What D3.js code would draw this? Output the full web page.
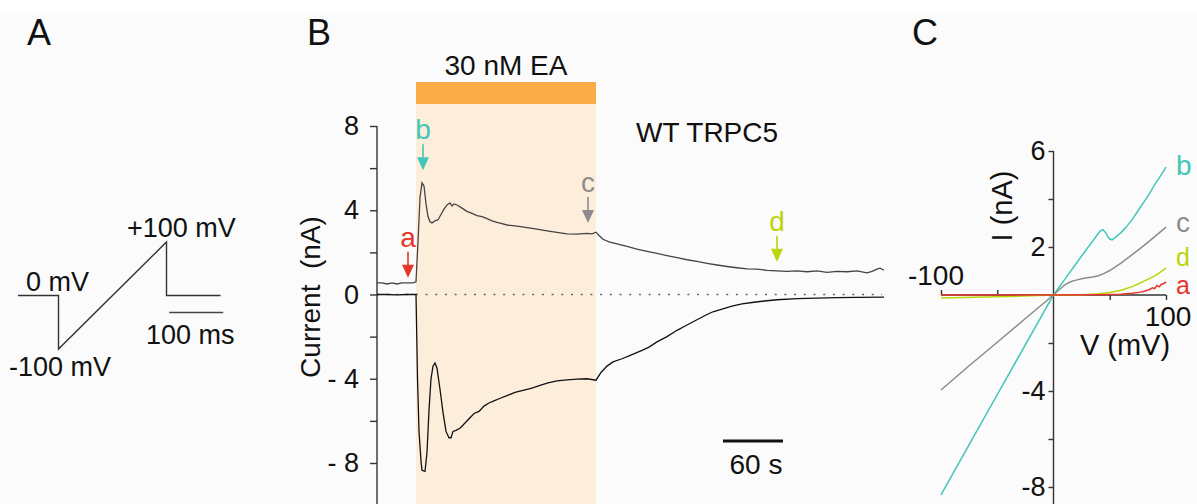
<!DOCTYPE html>
<html><head><meta charset="utf-8">
<script src="https://cdn.jsdelivr.net/npm/d3@7"></script>
<style>
body{margin:0;background:#fff}
svg{display:block}
text{font-family:"Liberation Sans",Arial,Helvetica,sans-serif;fill:#111;white-space:pre}
</style>
</head><body>
<svg id="chart" width="1197" height="504"></svg>
<script>
// ---------- Panel A : voltage protocol ----------
const protoTimeMs  = [0, 75, 75, 275, 275, 375];
const protoVoltage = [0, 0, -100, 100, 0, 0];
const protoScaleBarMs = [280, 380];

// ---------- Panel B : current time course ----------
const timePos = [0,5,10,15,20,25,30,36,39,41,43,45,47,49,51,53,55,58,61,64,67,70,73,75,77,80,85,90,95,100,105,110,115,120,125,130,140,150,160,170,180,190,200,210,215,219,222,226,232,240,250,260,270,280,290,300,310,320,330,340,350,360,370,380,390,400,410,420,430,440,450,460,470,480,490,495,500,503,507];
const currentPos = [0.55,0.55,0.5,0.55,0.5,0.55,0.55,0.55,0.6,2.5,4.6,5.3,5.15,4.3,3.7,3.45,3.4,3.5,3.55,3.8,4.05,4.25,4.35,4.2,4.3,4.25,4.1,3.95,3.85,3.75,3.7,3.6,3.5,3.42,3.36,3.3,3.25,3.18,3.1,3.02,2.95,2.88,2.87,2.9,2.88,2.96,2.8,2.62,2.5,2.4,2.28,2.15,2.05,1.95,1.85,1.75,1.65,1.57,1.48,1.4,1.33,1.27,1.22,1.2,1.15,1.12,1.1,1.12,1.08,1.12,1.05,1.1,1.08,1.12,1.03,1.1,1.2,1.25,1.15];
const timeNeg = [0,10,20,30,39,40.5,42,44,45,48,50,52,54,56,58,60,63,66,69,72,74,76,79,83,88,93,97,102,107,112,117,122,130,138,146,155,163,171,180,190,200,210,219,224,230,236,245,255,265,272,280,290,300,310,320,330,336,345,355,365,375,385,400,420,440,460,480,507];
const currentNeg = [0,0,-0.02,0,0,-4,-6.5,-7.9,-8.35,-8.4,-7.5,-5.5,-4.0,-3.4,-3.25,-3.5,-4.5,-5.6,-6.5,-6.8,-6.8,-6.5,-6.45,-6.35,-6.1,-5.85,-5.65,-5.55,-5.3,-5.15,-5.05,-4.95,-4.8,-4.65,-4.55,-4.45,-4.32,-4.2,-4.1,-4.05,-4.02,-4.0,-4.07,-3.7,-3.4,-3.2,-3.05,-2.85,-2.65,-2.5,-2.25,-2.0,-1.7,-1.45,-1.2,-0.95,-0.82,-0.7,-0.55,-0.45,-0.38,-0.32,-0.25,-0.2,-0.17,-0.15,-0.14,-0.12];
const eaWindow = [39, 219];
const eaLabel = "30 nM EA";
const arrowLabels = ["a", "b", "c", "d"];
const arrowTimes = [31, 46, 211, 400];
const arrowTips = [0.8, 5.9, 3.4, 1.55];
const yTicksB = [8, 6, 4, 2, 0, -2, -4, -6, -8];
const yLabelsB = [8, 4, 0, -4, -8];
const timeScaleBar = [346, 406];

// ---------- Panel C : I-V curves ----------
const vB = [-100,-50,0,10,20,30,35,40,42,44,46,48,50,52,55,60,65,70,75,80,85,90,95,100];
const iB = [-8.33,-4.15,0,0.65,1.3,1.95,2.25,2.58,2.68,2.72,2.62,2.45,2.33,2.3,2.4,2.6,2.85,3.15,3.5,3.85,4.2,4.6,4.95,5.33];
const vC = [-100,-75,-50,-25,0,5,10,15,20,25,30,35,40,45,50,60,70,80,90,100];
const iC = [-3.96,-2.95,-1.97,-0.98,0,0.22,0.42,0.55,0.62,0.68,0.72,0.75,0.8,0.9,1.02,1.33,1.68,2.05,2.43,2.83];
const vD = [-100,-80,-60,-40,-20,0,20,30,40,50,60,70,77,85,90,95,100];
const iD = [-0.12,-0.1,-0.08,-0.06,-0.03,0,0,0.02,0.05,0.1,0.2,0.35,0.5,0.68,0.8,0.95,1.12];
const vA = [-100,-50,0,40,60,70,77,80,85,88,90,92,94,96,98,100];
const iA = [0,0,0,0.01,0.03,0.07,0.12,0.15,0.22,0.3,0.27,0.4,0.34,0.45,0.48,0.55];
const yTicksC = [6, 4, 2, 0, -2, -4, -6, -8];
const yLabelsC = [6, 2, -4, -8];
const curveNames = ["b", "c", "d", "a"];
const curveColors = {a: "#e6352b", b: "#44c6b8", c: "#8c8c8c", d: "#bcd40a"};

// ---------- drawing ----------
const svg = d3.select("#chart");
svg.append("rect").attr("x", 0).attr("y", 15).attr("width", 1197).attr("height", 489).attr("fill", "#fbfbfb");

// Panel letters
[["A", 27], ["B", 307], ["C", 912]].forEach(([t, x]) =>
  svg.append("text").attr("x", x).attr("y", 45).attr("font-size", 36).text(t));

// ===== Panel A =====
const xA = d3.scaleLinear().domain([0, 375]).range([18, 220.5]);
const yA = d3.scaleLinear().domain([-100, 100]).range([349, 242]);
const gA = svg.append("g");
gA.append("path")
  .datum(d3.zip(protoTimeMs, protoVoltage))
  .attr("d", d3.line().x(d => xA(d[0])).y(d => yA(d[1])))
  .attr("fill", "none").attr("stroke", "#333").attr("stroke-width", 1.4);
gA.append("line").attr("x1", xA(protoScaleBarMs[0])).attr("x2", xA(protoScaleBarMs[1]))
  .attr("y1", yA(0) + 17).attr("y2", yA(0) + 17).attr("stroke", "#444").attr("stroke-width", 1.4);
gA.append("text").attr("x", 26).attr("y", yA(0) - 5).attr("font-size", 27).text("0 mV");
gA.append("text").attr("x", 9).attr("y", yA(-100) + 27).attr("font-size", 27).text("-100 mV");
gA.append("text").attr("x", 127).attr("y", yA(100) - 5).attr("font-size", 27).text("+100 mV");
gA.append("text").attr("x", 146).attr("y", yA(0) + 48).attr("font-size", 27).text("100 ms");

// ===== Panel B =====
const xB = d3.scaleLinear().domain([0, 507]).range([377, 884]);
const yB = d3.scaleLinear().domain([-8, 8]).range([463, 126]);
const gB = svg.append("g");

// EA shading and bar
gB.append("rect").attr("x", xB(eaWindow[0])).attr("width", xB(eaWindow[1]) - xB(eaWindow[0]))
  .attr("y", 104).attr("height", 400).attr("fill", "#fdeedb");
gB.append("rect").attr("x", xB(eaWindow[0])).attr("width", xB(eaWindow[1]) - xB(eaWindow[0]))
  .attr("y", 82).attr("height", 22).attr("fill", "#fbab47");
gB.append("text").attr("x", (xB(eaWindow[0]) + xB(eaWindow[1])) / 2).attr("y", 75)
  .attr("text-anchor", "middle").attr("font-size", 28).text(eaLabel);

// y axis
const axB = d3.axisLeft(yB).tickValues(yTicksB).tickSize(7).tickPadding(11)
  .tickFormat(d => yLabelsB.includes(d) ? (d < 0 ? "- " + Math.abs(d) : String(d)) : "");
const gAxB = gB.append("g").attr("transform", `translate(${xB(0)},0)`).call(axB);
gAxB.select(".domain").remove();
gAxB.selectAll(".tick line").attr("stroke", "#333").attr("stroke-width", 1.4);
gAxB.selectAll(".tick text").attr("font-size", 27).attr("font-family", '"Liberation Sans",Arial,sans-serif').attr("fill", "#111").style("white-space", "pre");
gB.append("line").attr("x1", xB(0)).attr("x2", xB(0)).attr("y1", yB(8)).attr("y2", 504)
  .attr("stroke", "#333").attr("stroke-width", 1.4);
gB.append("text").attr("transform", `translate(320,${(212 + 382) / 2}) rotate(-90)`)
  .attr("text-anchor", "middle").attr("font-size", 28).text("Current  (nA)");

// zero dotted line
gB.append("line").attr("x1", xB(0)).attr("x2", xB(505)).attr("y1", yB(0)).attr("y2", yB(0))
  .attr("stroke", "#666").attr("stroke-width", 1.6).attr("stroke-dasharray", "2,7.7");

const lineB = d3.line().x(d => xB(d[0])).y(d => yB(d[1]));
gB.append("path").datum(d3.zip(timePos, currentPos)).attr("d", lineB)
  .attr("fill", "none").attr("stroke", "#444").attr("stroke-width", 1.3);
gB.append("path").datum(d3.zip(timeNeg, currentNeg)).attr("d", lineB)
  .attr("fill", "none").attr("stroke", "#111").attr("stroke-width", 1.3);

// arrows
arrowLabels.forEach((lab, i) => {
  const x = xB(arrowTimes[i]), tip = yB(arrowTips[i]);
  const col = curveColors[lab];
  gB.append("line").attr("x1", x).attr("x2", x).attr("y1", tip - 26).attr("y2", tip - 8)
    .attr("stroke", col).attr("stroke-width", 1.6);
  gB.append("path").attr("d", `M${x - 6},${tip - 13}L${x + 6},${tip - 13}L${x},${tip}Z`).attr("fill", col);
  gB.append("text").attr("x", x).attr("y", tip - 31).attr("text-anchor", "middle")
    .attr("font-size", 28).style("fill", col).text(lab);
});

gB.append("text").attr("x", 636).attr("y", 142).attr("font-size", 28).text("WT TRPC5");

// time scale bar
gB.append("line").attr("x1", xB(timeScaleBar[0])).attr("x2", xB(timeScaleBar[1]))
  .attr("y1", 441).attr("y2", 441).attr("stroke", "#111").attr("stroke-width", 3);
gB.append("text").attr("x", (xB(timeScaleBar[0]) + xB(timeScaleBar[1])) / 2 + 3).attr("y", 474)
  .attr("text-anchor", "middle").attr("font-size", 28).text("60 s");

// ===== Panel C =====
const xC = d3.scaleLinear().domain([-100, 100]).range([941, 1166]);
const yC = d3.scaleLinear().domain([-8, 6]).range([487, 151]);
const gC = svg.append("g");

const axC = d3.axisLeft(yC).tickValues(yTicksC).tickSize(5).tickPadding(3)
  .tickFormat(d => yLabelsC.includes(d) ? String(d) : "");
const gAxC = gC.append("g").attr("transform", `translate(${xC(0)},0)`).call(axC);
gAxC.select(".domain").remove();
gAxC.selectAll(".tick line").attr("stroke", "#333").attr("stroke-width", 1.4);
gAxC.selectAll(".tick text").attr("font-size", 27).attr("font-family", '"Liberation Sans",Arial,sans-serif').attr("fill", "#111");
gC.append("line").attr("x1", xC(0)).attr("x2", xC(0)).attr("y1", yC(6)).attr("y2", 504)
  .attr("stroke", "#333").attr("stroke-width", 1.4);

// x axis
const gXC = gC.append("g").attr("transform", `translate(0,${yC(0)})`);
gXC.call(d3.axisTop(xC).tickValues([-100, -50]).tickSize(5).tickFormat(""));
gXC.append("g").call(d3.axisBottom(xC).tickValues([50, 100]).tickSize(5).tickFormat(""));
gXC.selectAll(".domain").remove();
gXC.selectAll(".tick line").attr("stroke", "#333").attr("stroke-width", 1.4);
gC.append("line").attr("x1", xC(-100)).attr("x2", xC(100)).attr("y1", yC(0)).attr("y2", yC(0))
  .attr("stroke", "#333").attr("stroke-width", 1.4);
gC.append("text").attr("x", xC(-100) - 5).attr("y", yC(0) - 10).attr("text-anchor", "middle")
  .attr("font-size", 28).text("-100");
gC.append("text").attr("x", xC(100) + 2).attr("y", yC(0) + 31).attr("text-anchor", "middle")
  .attr("font-size", 28).text("100");
gC.append("text").attr("x", 1125).attr("y", 355).attr("text-anchor", "middle")
  .attr("font-size", 29).text("V (mV)");
gC.append("text").attr("transform", `translate(1012,206) rotate(-90)`).attr("text-anchor", "middle")
  .attr("font-size", 29).text("I (nA)");

const curves = {
  b: d3.zip(vB, iB), c: d3.zip(vC, iC), d: d3.zip(vD, iD), a: d3.zip(vA, iA)
};
const lineC = d3.line().x(d => xC(d[0])).y(d => yC(d[1]));
curveNames.forEach(k => {
  gC.append("path").datum(curves[k]).attr("d", lineC)
    .attr("fill", "none").attr("stroke", curveColors[k]).attr("stroke-width", 1.5);
});
const labelBaseline = {b: 175, c: 232, d: 266, a: 294};
const labelSize = {b: 28, c: 28, d: 25, a: 25};
curveNames.forEach(k => {
  gC.append("text").attr("x", 1176).attr("y", labelBaseline[k]).attr("font-size", labelSize[k])
    .style("fill", curveColors[k]).text(k);
});
</script>
</body></html>
